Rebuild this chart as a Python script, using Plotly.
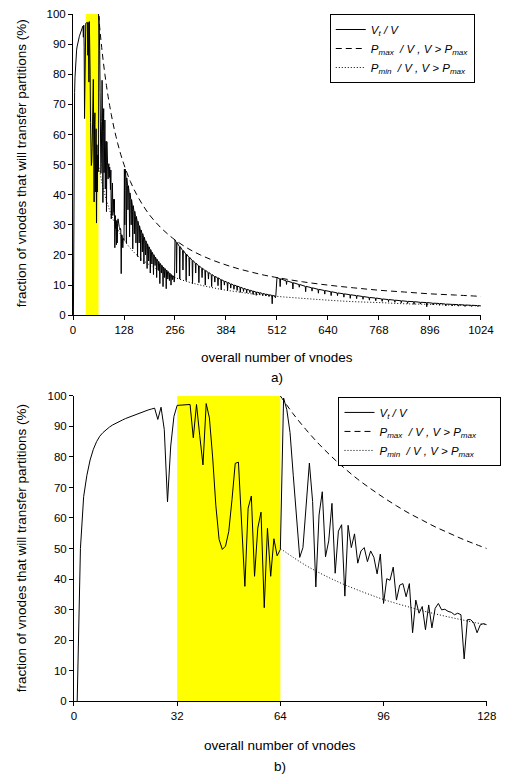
import plotly.graph_objects as go

# V_t / V for V = 1..128
v_small = list(range(1, 129))
vt_small = [0, 50, 67, 74, 79, 82.5, 85, 86.8, 88, 89, 89.8, 90.5, 91.1, 91.6, 92.1, 92.6,
            93, 93.5, 94, 94.4, 94.8, 95.1, 95.4, 95.7, 96,
            92.3, 96.3, 89, 65.3, 83.6, 93.3, 96.9, 97, 97.1, 97.1, 97.2, 86.3, 97.2, 87, 77.4,
            97.5, 92.8, 80, 64, 53, 49.7, 50.8, 55.6, 66, 77.9,
            78.3, 57.8, 37.6, 63.2, 67.2, 40.9, 56.7, 61.9, 30.6, 56.6,
            40.9, 53.2, 47.6, 49.7,
            99.3, 95.5, 88, 74, 60, 47.1, 50.3, 64.3, 78, 65.4, 37.4, 61, 68.6, 47.3, 52.5, 64.8,
            41.9, 55.7, 57.8, 34.4, 57.6, 50.3, 54.8, 45.2, 49.2, 50.3, 45.7, 49.2, 47.1, 41.7, 48.2, 32,
            40.1, 39.6, 43.9, 33.1, 38, 38.5, 34.2, 38.5, 22.4, 33.1, 28.8, 31, 23.4, 31.5, 24, 30.4,
            32, 29.9, 30.1, 29.4, 29.1, 28.3, 28.8, 28.3, 13.8, 26.7, 26.7, 25.6, 22.4, 25, 25.4, 25]

# panel a, V > 128: teeth (position, value on the upper edge, value at the bottom of the tooth)
seg2_v = [130, 134, 138, 142, 146, 150, 154, 158, 162, 166, 170, 174, 178, 182, 186, 190,
          194, 198, 202, 206, 210, 214, 218, 222, 226, 230, 234, 238, 242, 246, 250, 254]
seg2_env = [48.5, 45.6, 43.0, 40.6, 38.4, 36.4, 34.5, 32.8, 31.2, 29.7, 28.3, 27.1, 25.9, 24.7, 23.7, 22.7,
            21.8, 20.9, 20.1, 19.3, 18.6, 17.9, 17.2, 16.6, 16.0, 15.5, 15.0, 14.5, 14.0, 13.5, 13.1, 12.7]
seg2_low = [30, 24, 35, 26, 30, 22, 27, 24, 19.5, 24, 18, 21, 17, 20, 15.5, 18,
            14, 17, 13.5, 16.5, 12.5, 15, 10.5, 14, 9.5, 12.5, 8.8, 12, 11.5, 10, 11.8, 11]

seg3_v = [260, 268, 276, 284, 292, 300, 308, 316, 324, 332, 340, 348, 356, 364, 372, 380,
          388, 396, 404, 412, 420, 428, 436, 444, 452, 460, 468, 476, 484, 492, 500, 508]
seg3_env = [24.2, 22.8, 21.5, 20.3, 19.2, 18.2, 17.3, 16.4, 15.6, 14.9, 14.2, 13.5, 12.9, 12.4, 11.8, 11.3,
            10.9, 10.4, 10.0, 9.7, 9.3, 8.9, 8.6, 8.3, 8.0, 7.7, 7.5, 7.2, 7.0, 6.8, 6.6, 6.3]
seg3_low = [14, 12, 15, 11.5, 13, 10.5, 14, 10.8, 12.5, 10, 12, 9.5, 11, 9.8, 8.5, 10,
            8.2, 9, 8.6, 8.2, 7.6, 7.9, 7.4, 7.5, 6.9, 6.6, 6.8, 6.5, 6.4, 6.2, 3.8, 5.8]

seg4_v = [520, 536, 552, 568, 584, 600, 616, 632, 648, 664, 680, 696, 712, 728, 744, 760,
          776, 792, 808, 824, 840, 856, 872, 888, 904, 920, 936, 952, 968, 984, 1000, 1016]
seg4_env = [12.1, 11.4, 10.8, 10.2, 9.6, 9.1, 8.6, 8.2, 7.8, 7.4, 7.1, 6.8, 6.5, 6.2, 5.9, 5.7,
            5.4, 5.2, 5.0, 4.8, 4.6, 4.5, 4.3, 4.2, 4.0, 3.9, 3.7, 3.6, 3.5, 3.4, 3.3, 3.2]
seg4_low = [9.5, 10.2, 8.7, 9.3, 7.8, 8.0, 7.3, 7.0, 6.5, 6.5, 6.0, 5.6, 5.5, 5.3, 5.0, 4.8,
            4.6, 4.5, 4.3, 4.1, 3.9, 3.6, 3.7, 2.8, 3.4, 3.3, 3.1, 3.1, 3.0, 2.9, 2.9, 2.9]

jump_v = [256, 512]
jump_vt = [25.0, 12.5]
end_v = 1024
end_vt = 3.1

# P_max / V and P_min / V (V > P_max)
p_v = [64, 68, 72, 76, 80, 84, 88, 92, 96, 100, 104, 108, 112, 116, 120, 124, 128]
pmax_pct = [100, 94.1, 88.9, 84.2, 80, 76.2, 72.7, 69.6, 66.7, 64, 61.5, 59.3, 57.1, 55.2, 53.3, 51.6, 50]
pmin_pct = [50, 47.1, 44.4, 42.1, 40, 38.1, 36.4, 34.8, 33.3, 32, 30.8, 29.6, 28.6, 27.6, 26.7, 25.8, 25]
p_v_ext = [144, 160, 176, 192, 208, 224, 240, 256, 288, 320, 352, 384, 416, 448, 480, 512,
           576, 640, 704, 768, 832, 896, 960, 1024]
pmax_ext = [44.4, 40, 36.4, 33.3, 30.8, 28.6, 26.7, 25, 22.2, 20, 18.2, 16.7, 15.4, 14.3, 13.3, 12.5,
            11.1, 10, 9.1, 8.3, 7.7, 7.1, 6.7, 6.25]
pmin_ext = [22.2, 20, 18.2, 16.7, 15.4, 14.3, 13.3, 12.5, 11.1, 10, 9.1, 8.3, 7.7, 7.1, 6.7, 6.25,
            5.6, 5, 4.5, 4.2, 3.8, 3.6, 3.3, 3.1]

yellow_band = [32, 64]

names = ["<i>V<sub>t</sub> / V</i>",
         "<i>P<sub>max</sub>  / V , V > P<sub>max</sub></i>",
         "<i>P<sub>min</sub>  / V , V > P<sub>max</sub></i>"]
# panel b legend box is a bit wider on the right
names_b = [n + "&nbsp;" * 6 for n in names]


def teeth(vs, env, low):
    xs, ys = [], []
    for v, e, l in zip(vs, env, low):
        xs += [v - 1, v, v + 1]
        ys += [e, l, e]
    return xs, ys


top_x = list(v_small)
top_y = list(vt_small)
x2, y2 = teeth(seg2_v, seg2_env, seg2_low)
top_x += x2
top_y += y2
x3, y3 = teeth(seg3_v, seg3_env, seg3_low)
top_x += [jump_v[0]] + x3
top_y += [jump_vt[0]] + y3
x4, y4 = teeth(seg4_v, seg4_env, seg4_low)
top_x += [jump_v[1]] + x4 + [end_v]
top_y += [jump_vt[1]] + y4 + [end_vt]

FONT = "Liberation Sans, Arial, sans-serif"
# the page body keeps its default 8px margin, so the figure is 16px smaller than the window
PAD = 8
W, H = 531 - 2 * PAD, 784 - 2 * PAD


def fx(px):
    return (px - PAD) / W


def fy(py):
    return 1 - (py - PAD) / H


fig = go.Figure()

# panel a
fig.add_trace(go.Scatter(x=top_x, y=top_y, mode="lines", name=names[0], legend="legend",
                         line=dict(color="black", width=1), xaxis="x", yaxis="y"))
fig.add_trace(go.Scatter(x=p_v + p_v_ext, y=pmax_pct + pmax_ext, mode="lines", name=names[1], legend="legend",
                         line=dict(color="black", width=1, dash="6px,4px", shape="spline"), xaxis="x", yaxis="y"))
fig.add_trace(go.Scatter(x=p_v + p_v_ext, y=pmin_pct + pmin_ext, mode="lines", name=names[2], legend="legend",
                         line=dict(color="black", width=1, dash="1px,2px", shape="spline"), xaxis="x", yaxis="y"))

# panel b
fig.add_trace(go.Scatter(x=v_small, y=vt_small, mode="lines", name=names_b[0], legend="legend2",
                         line=dict(color="black", width=1), xaxis="x2", yaxis="y2"))
fig.add_trace(go.Scatter(x=p_v, y=pmax_pct, mode="lines", name=names_b[1], legend="legend2",
                         line=dict(color="black", width=1, dash="6px,4px", shape="spline"), xaxis="x2", yaxis="y2"))
fig.add_trace(go.Scatter(x=p_v, y=pmin_pct, mode="lines", name=names_b[2], legend="legend2",
                         line=dict(color="black", width=1, dash="1px,2px", shape="spline"), xaxis="x2", yaxis="y2"))

for xr, yr in [("x", "y"), ("x2", "y2")]:
    fig.add_shape(type="rect", xref=xr, yref=yr, x0=yellow_band[0], x1=yellow_band[1], y0=0, y1=100,
                  fillcolor="#FFFF00", line=dict(width=0), layer="below")

axis_style = dict(showline=True, linecolor="black", linewidth=1, ticks="outside", ticklen=4,
                  tickcolor="black", showgrid=False, zeroline=False,
                  tickfont=dict(family=FONT, size=11.5, color="black"))

leg_style = dict(bgcolor="white", bordercolor="black", borderwidth=1, xanchor="left", yanchor="top",
                 font=dict(family=FONT, size=11.5, color="black"), tracegroupgap=0, itemwidth=30)

fig.update_layout(
    width=W, height=H, autosize=False,
    margin=dict(l=0, r=0, t=0, b=0),
    paper_bgcolor="white", plot_bgcolor="white",
    showlegend=True,
    xaxis=dict(domain=[fx(72), fx(493)], range=[0, 1024], tickvals=[0, 128, 256, 384, 512, 640, 768, 896, 1024],
               anchor="y", **axis_style),
    yaxis=dict(domain=[fy(314), fy(8)], range=[0, 100], dtick=10, anchor="x", **axis_style),
    xaxis2=dict(domain=[fx(73), fx(499)], range=[0, 128], tickvals=[0, 32, 64, 96, 128],
                anchor="y2", **axis_style),
    yaxis2=dict(domain=[fy(706), fy(396)], range=[0, 100], dtick=10, anchor="x2", **axis_style),
    legend=dict(x=fx(337), y=fy(8), **leg_style),
    legend2=dict(x=fx(346), y=fy(397), **leg_style),
)

ytitle = "fraction of vnodes that will transfer partitions (%)"
notes = [
    (ytitle, 19, 160, -90),
    ("overall number of vnodes", 282.5, 357, 0),
    ("a)", 282.5, 377, 0),
    (ytitle, 19, 551, -90),
    ("overall number of vnodes", 286, 751, 0),
    ("b)", 286, 772, 0),
]
for text, px, py, ang in notes:
    fig.add_annotation(text=text, x=fx(px), y=fy(py), xref="paper", yref="paper",
                       xanchor="center", yanchor="middle", showarrow=False, textangle=ang,
                       font=dict(family=FONT, size=13.5, color="black"))

fig.write_html("out.html", config={"displayModeBar": False})
